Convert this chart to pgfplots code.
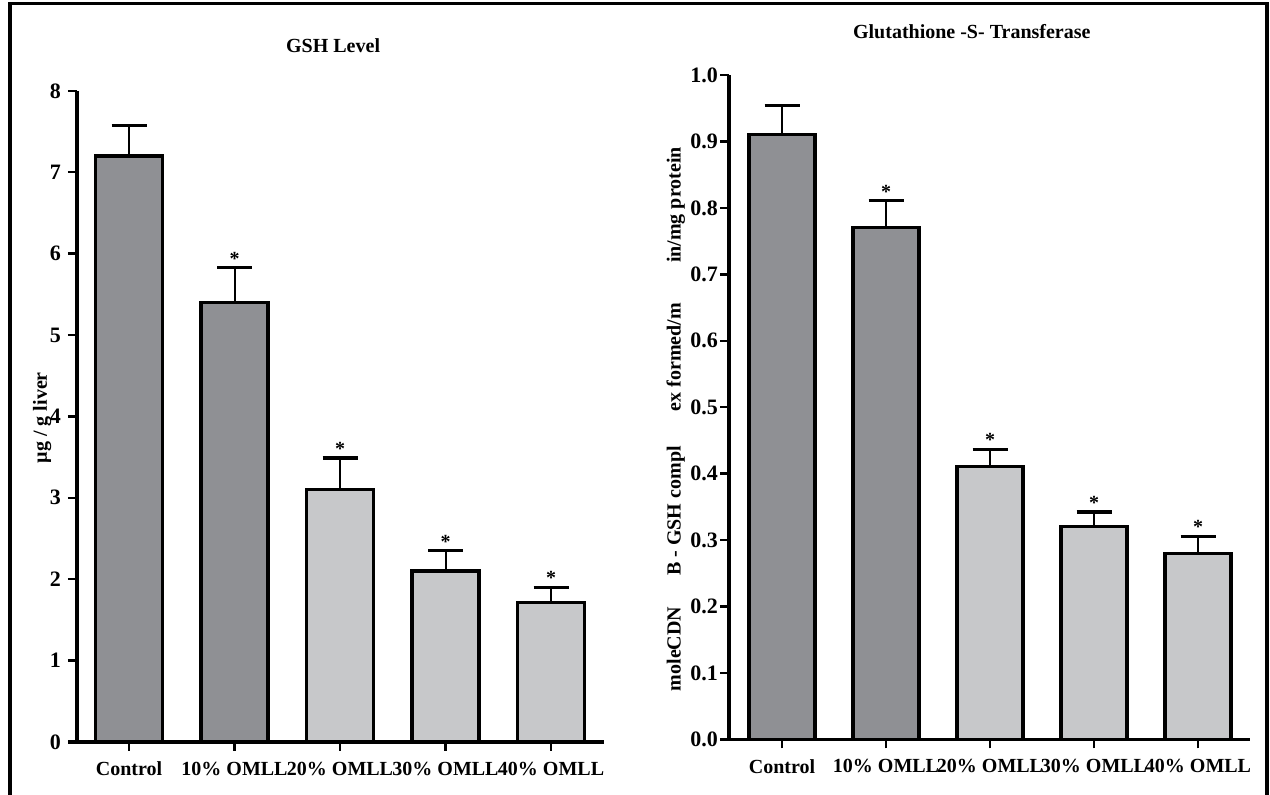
\documentclass[border=0pt]{standalone}
\usepackage{fontspec}
\setmainfont{Liberation Serif}
\usepackage{pgfplots}
\pgfplotsset{compat=1.18}
\definecolor{darkbar}{HTML}{8F9094}
\definecolor{lightbar}{HTML}{C7C8CA}
\newcommand{\lblfont}{\fontsize{10bp}{12bp}\selectfont\bfseries}
\newcommand{\tickfont}{\fontsize{11bp}{13bp}\selectfont\bfseries}
\pgfplotsset{
  mybars/.style={
    scale only axis,
    anchor=south west,
    axis lines=left,
    axis line style={-, line width=1.6bp, black},
    x axis line style={shorten <=-4.5bp},
    tick align=outside,
    major tick length=4.5bp,
    every tick/.style={black, line width=1.2bp},
    xtick={0,1,2,3,4},
    xticklabels={Control,10\% OMLL,20\% OMLL,30\% OMLL,40\% OMLL},
    xticklabel style={font=\lblfont, yshift=-2bp},
    yticklabel style={font=\tickfont},
    /pgf/number format/assume math mode=true,
    title style={font=\lblfont, anchor=center, yshift=-6pt},
    ylabel style={font=\lblfont, anchor=center},
    clip=false,
  },
  gbar/.style={ybar, bar width=33.5bp, bar shift=0pt, draw=black, line width=1.6bp,
    error bars/y dir=plus, error bars/y explicit,
    error bars/error bar style={line width=1bp, black},
    error bars/error mark options={rotate=90, mark size=8.75bp, line width=1.6bp, black}},
  stars/.style={draw=none, nodes near coords={*},
    every node near coord/.append style={anchor=south, inner sep=0pt, font=\lblfont, yshift=1bp}},
}
\begin{document}
\begin{tikzpicture}
\useasboundingbox (0,0) rectangle (635bp,397.5bp);
\draw[line width=1.65bp] (5bp,0) -- (5bp,395.85bp) -- (633.5bp,395.85bp) -- (633.5bp,0);

\begin{axis}[mybars,
  at={(38.5bp,26.5bp)}, width=263.5bp, height=325.6bp,
  xmin=-0.493, xmax=4.502, ymin=0, ymax=8, ytick={0,1,2,3,4,5,6,7,8},
  title={GSH Level}, title style={at={(axis description cs:0.486,1.070)}},
  ylabel={µg / g liver}, ylabel style={at={(axis description cs:-0.066,0.498)}},
]
\addplot[gbar, fill=darkbar] coordinates {(0,7.2) +- (0,0.37) (1,5.4) +- (0,0.43)};
\addplot[gbar, fill=lightbar] coordinates {(2,3.1) +- (0,0.39) (3,2.1) +- (0,0.25) (4,1.71) +- (0,0.19)};
\addplot[stars] coordinates {(1,5.83) (2,3.49) (3,2.35) (4,1.9)};
\end{axis}

\begin{axis}[mybars,
  at={(364.5bp,27.75bp)}, width=260.5bp, height=332.25bp,
  xmin=-0.51, xmax=4.5, ymin=0, ymax=1,
  ytick={0,0.1,0.2,0.3,0.4,0.5,0.6,0.7,0.8,0.9,1.0},
  yticklabel style={xshift=2.5bp, /pgf/number format/.cd, fixed, fixed zerofill, precision=1},
  title={Glutathione -S- Transferase}, title style={at={(axis description cs:0.466,1.066)}},
  ylabel={moleCDN\hspace{15.5bp}B - GSH compl\hspace{17.5bp}ex formed/m\hspace{20bp}in/mg protein},
  ylabel style={at={(axis description cs:-0.102,0.482)}},
]
\addplot[gbar, bar width=33bp, fill=darkbar] coordinates {(0,0.911) +- (0,0.043) (1,0.77) +- (0,0.041)};
\addplot[gbar, bar width=33bp, fill=lightbar] coordinates {(2,0.411) +- (0,0.026) (3,0.32) +- (0,0.0225) (4,0.28) +- (0,0.026)};
\addplot[stars] coordinates {(1,0.811) (2,0.437) (3,0.3425) (4,0.306)};
\end{axis}
\end{tikzpicture}
\end{document}
